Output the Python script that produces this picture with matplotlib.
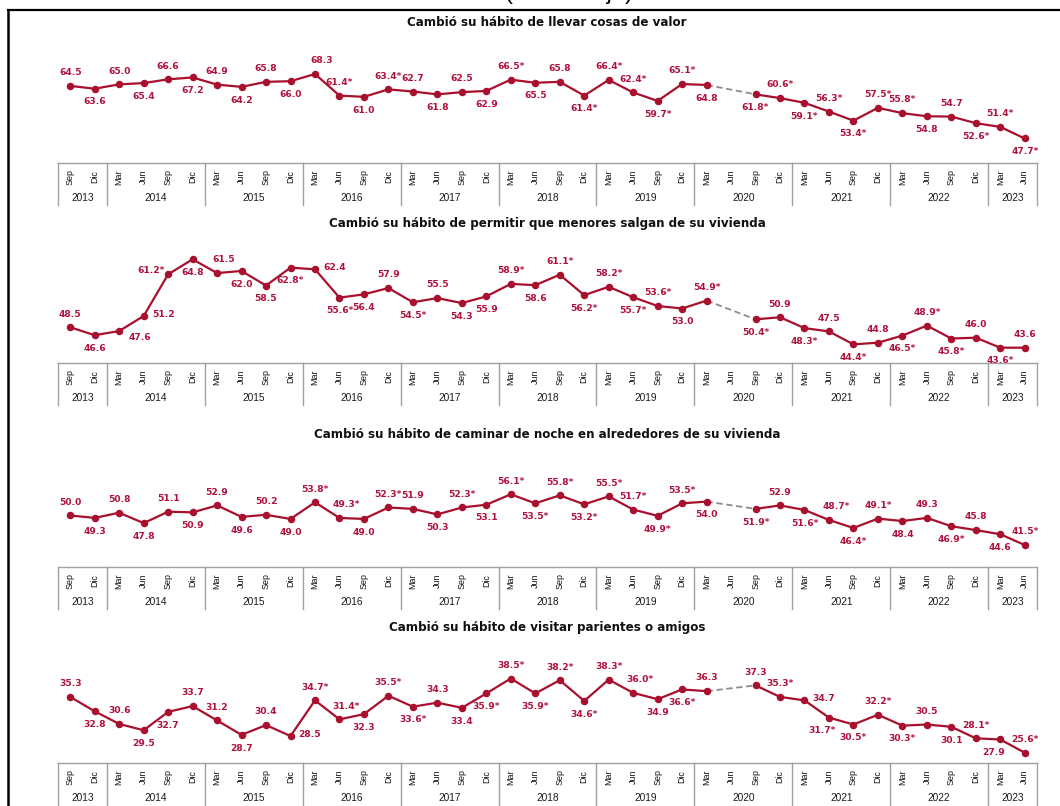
import matplotlib
matplotlib.use("Agg")
import matplotlib.pyplot as plt
from matplotlib.lines import Line2D
import numpy as np

# ---------------- DATA ----------------
months = ["Sep", "Dic"] + ["Mar", "Jun", "Sep", "Dic"] * 9 + ["Mar", "Jun"]
years = ["2013", "2014", "2015", "2016", "2017", "2018", "2019", "2020", "2021", "2022", "2023"]
year_counts = [2, 4, 4, 4, 4, 4, 4, 4, 4, 4, 2]

titles = [
    "Cambió su hábito de llevar cosas de valor",
    "Cambió su hábito de permitir que menores salgan de su vivienda",
    "Cambió su hábito de caminar de noche en alrededores de su vivienda",
    "Cambió su hábito de visitar parientes o amigos",
]

valor = [64.5, 63.6, 65.0, 65.4, 66.6, 67.2, 64.9, 64.2, 65.8, 66.0,
         68.3, 61.4, 61.0, 63.4, 62.7, 61.8, 62.5, 62.9, 66.5, 65.5,
         65.8, 61.4, 66.4, 62.4, 59.7, 65.1, 64.8, None, 61.8, 60.6,
         59.1, 56.3, 53.4, 57.5, 55.8, 54.8, 54.7, 52.6, 51.4, 47.7]
valor_sig = [11, 13, 18, 21, 22, 23, 24, 25, 28, 29, 30, 31, 32, 33, 34, 37, 38, 39]

menores = [48.5, 46.6, 47.6, 51.2, 61.2, 64.8, 61.5, 62.0, 58.5, 62.8,
           62.4, 55.6, 56.4, 57.9, 54.5, 55.5, 54.3, 55.9, 58.9, 58.6,
           61.1, 56.2, 58.2, 55.7, 53.6, 53.0, 54.9, None, 50.4, 50.9,
           48.3, 47.5, 44.4, 44.8, 46.5, 48.9, 45.8, 46.0, 43.6, 43.6]
menores_sig = [4, 9, 11, 14, 18, 20, 21, 22, 23, 24, 26, 28, 30, 32, 34, 35, 36, 38]

caminar = [50.0, 49.3, 50.8, 47.8, 51.1, 50.9, 52.9, 49.6, 50.2, 49.0,
           53.8, 49.3, 49.0, 52.3, 51.9, 50.3, 52.3, 53.1, 56.1, 53.5,
           55.8, 53.2, 55.5, 51.7, 49.9, 53.5, 54.0, None, 51.9, 52.9,
           51.6, 48.7, 46.4, 49.1, 48.4, 49.3, 46.9, 45.8, 44.6, 41.5]
caminar_sig = [10, 11, 13, 16, 18, 19, 20, 21, 22, 23, 24, 25, 28, 30, 31, 32, 33, 36, 39]

visitar = [35.3, 32.8, 30.6, 29.5, 32.7, 33.7, 31.2, 28.7, 30.4, 28.5,
           34.7, 31.4, 32.3, 35.5, 33.6, 34.3, 33.4, 35.9, 38.5, 35.9,
           38.2, 34.6, 38.3, 36.0, 34.9, 36.6, 36.3, None, 37.3, 35.3,
           34.7, 31.7, 30.5, 32.2, 30.3, 30.5, 30.1, 28.1, 27.9, 25.6]
visitar_sig = [10, 11, 13, 14, 17, 18, 19, 20, 21, 22, 23, 25, 29, 31, 32, 33, 34, 37, 39]

series = [valor, menores, caminar, visitar]
sigs = [valor_sig, menores_sig, caminar_sig, visitar_sig]

# ---------------- STYLE / LAYOUT ----------------
label_pos = [
    "a b a b a b a b a b ar a b a a b a b a b a b a a b a b - b a b a b a a b a b a b",
    "a b br r l b ar b b b r b b a b a b b a b a b a b a b a - b a b a b a b a b a b a",
    "a b a b a b a b a b a ar b a a b a b a b a b a a b a b - b a b ar b a b a b a b a",
    "a b a b b a a b a r a ar b a b a b b a b a b a ar b b a - a a r bl b a b a b a bl a",
]
offsets = {"a": (0, 9.5), "b": (0, -9.5), "ar": (5, 9.5), "br": (15, -5),
           "r": (14, 1), "l": (-12, 3), "bl": (-5, -9.5)}

W, H = 1060, 806
LINE = "#A8102E"
TXT = "#B0123E"
GRID = "#A0A0A0"

# per panel pixel layout: title_y, ax_top, table_top, px_of_max, px_of_min, table_bottom
panels = [
    (22, 35, 163, 74.0, 138.5, 205),
    (224, 235, 363, 259.3, 347.7, 405),
    (434, 445, 567, 494.3, 545.0, 607),
    (627, 640, 763, 678.5, 752.7, 806),
]
X0, X1 = 58, 1037

fig = plt.figure(figsize=(W / 100, H / 100), dpi=100)
fig.patch.set_facecolor("white")

# outer frame
fig.add_artist(Line2D([8 / W, 1.0], [1 - 10 / H, 1 - 10 / H], color="black", lw=1.6))
fig.add_artist(Line2D([8 / W, 8 / W], [1 - 10 / H, 0], color="black", lw=1.8))
fig.text(569 / W, 1 + 1 / H, "(Porcentaje)", ha="center", va="baseline",
         fontsize=17, family="Liberation Sans", color="black")

n = len(months)
x = np.arange(n)

for p, (title_y, ax_top, tab_top, pmax, pmin, tab_bot) in enumerate(panels):
    vals = np.array([np.nan if v is None else v for v in series[p]], dtype=float)
    vmax, vmin = np.nanmax(vals), np.nanmin(vals)
    s = (pmin - pmax) / (vmax - vmin)
    ytop = vmax + (pmax - ax_top) / s
    ybot = vmin - (tab_top - pmin) / s

    fig.text(547 / W, 1 - title_y / H, titles[p], ha="center", va="center",
             fontsize=8.6, fontweight="bold", family="DejaVu Sans", color="#111111")

    ax = fig.add_axes([X0 / W, 1 - tab_top / H, (X1 - X0) / W, (tab_top - ax_top) / H])
    ax.set_xlim(-0.5, n - 0.5)
    ax.set_ylim(ybot, ytop)
    ax.axis("off")

    # dashed bridge over missing values
    for i in range(1, n - 1):
        if np.isnan(vals[i]) and not np.isnan(vals[i - 1]):
            j = i + 1
            while j < n and np.isnan(vals[j]):
                j += 1
            if j < n:
                ax.plot([x[i - 1], x[j]], [vals[i - 1], vals[j]], color="#8C8C8C",
                        lw=1.3, ls=(0, (3.5, 2)), zorder=2)

    ax.plot(x, vals, color=LINE, lw=1.6, marker="o", markersize=4.4, zorder=3)

    pos = label_pos[p].split()
    for i in range(n):
        if np.isnan(vals[i]):
            continue
        txt = f"{vals[i]:.1f}" + ("*" if i in sigs[p] else "")
        dx, dy = offsets[pos[i]]
        ax.annotate(txt, (x[i], vals[i]), xytext=(dx, dy), textcoords="offset points",
                    ha="center", va="center", fontsize=6.6, fontweight="bold",
                    family="DejaVu Sans", color=TXT, annotation_clip=False)

    # category table
    tx = fig.add_axes([X0 / W, 1 - tab_bot / H, (X1 - X0) / W, (tab_bot - tab_top) / H])
    tx.set_xlim(-0.5, n - 0.5)
    tx.set_ylim(tab_bot - tab_top, 0)
    tx.axis("off")
    tx.plot([-0.5, n - 0.5], [0, 0], color=GRID, lw=1.0, clip_on=False)
    b = -0.5
    tx.plot([b, b], [0, 42], color=GRID, lw=1.0, clip_on=False)
    start = 0
    for yr, c in zip(years, year_counts):
        end = start + c
        tx.plot([end - 0.5, end - 0.5], [0, 42], color=GRID, lw=1.0, clip_on=False)
        tx.text((start + end - 1) / 2, 35, yr, ha="center", va="center", fontsize=7.3,
                family="Liberation Sans", color="#1a1a1a")
        start = end
    for i, m in enumerate(months):
        tx.text(x[i], 14, m, ha="center", va="center", rotation=90, fontsize=6.4,
                family="Liberation Sans", color="#111111")

fig.savefig("out.png", dpi=100)
